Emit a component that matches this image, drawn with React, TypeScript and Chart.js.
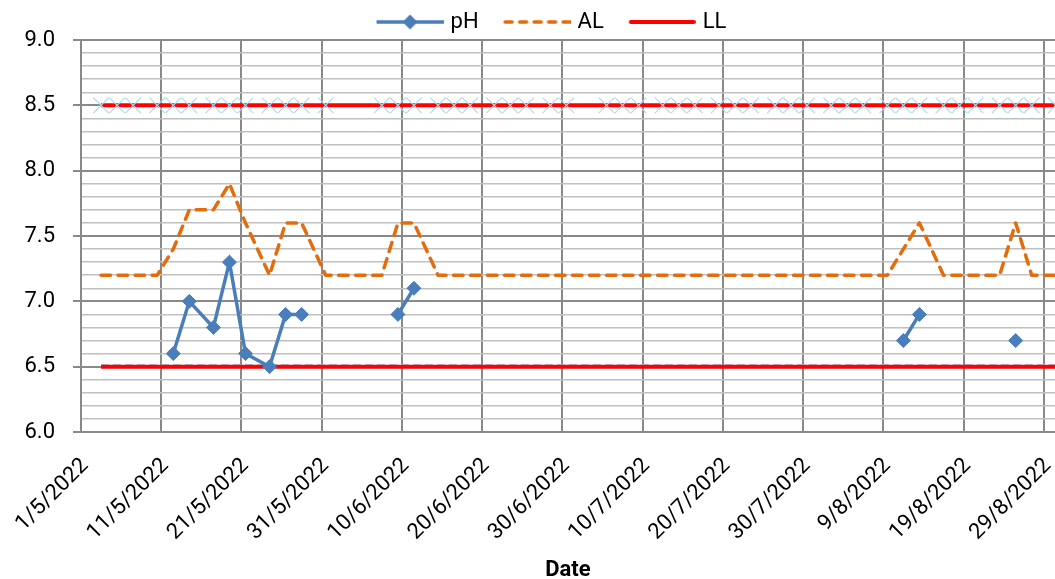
import React, { useEffect, useRef } from 'react';
import { Chart, registerables } from 'chart.js';

Chart.register(...registerables);

// ---- data (dates are d/m in 2022; rows on Tue/Thu/Sat) ----
const YEAR = 2022;

const sampleDates = [
  '3/5', '5/5', '7/5', '10/5', '12/5', '14/5', '17/5', '19/5', '21/5', '24/5', '26/5', '28/5', '31/5',
  '7/6', '9/6', '11/6', '14/6', '16/6', '18/6', '21/6', '23/6', '25/6', '28/6', '30/6',
  '5/7', '7/7', '9/7', '12/7', '14/7', '16/7', '19/7', '21/7', '23/7', '26/7', '28/7', '30/7',
  '2/8', '4/8', '6/8', '9/8', '11/8', '13/8', '16/8', '18/8', '20/8', '23/8', '25/8', '27/8', '30/8',
];

const phValues: (number | null)[] = [
  null, null, null, null, 6.6, 7.0, 6.8, 7.3, 6.6, 6.5, 6.9, 6.9, null,
  null, 6.9, 7.1, null, null, null, null, null, null, null, null,
  null, null, null, null, null, null, null, null, null, null, null, null,
  null, null, null, null, 6.7, 6.9, null, null, null, null, 6.7, null, null,
];

const alValues = [
  7.2, 7.2, 7.2, 7.2, 7.4, 7.7, 7.7, 7.9, 7.6, 7.2, 7.6, 7.6, 7.2,
  7.2, 7.6, 7.6, 7.2, 7.2, 7.2, 7.2, 7.2, 7.2, 7.2, 7.2,
  7.2, 7.2, 7.2, 7.2, 7.2, 7.2, 7.2, 7.2, 7.2, 7.2, 7.2, 7.2,
  7.2, 7.2, 7.2, 7.2, 7.4, 7.6, 7.2, 7.2, 7.2, 7.2, 7.6, 7.2, 7.2,
];

const llValues = [
  6.5, 6.5, 6.5, 6.5, 6.5, 6.5, 6.5, 6.5, 6.5, 6.5, 6.5, 6.5, 6.5,
  6.5, 6.5, 6.5, 6.5, 6.5, 6.5, 6.5, 6.5, 6.5, 6.5, 6.5,
  6.5, 6.5, 6.5, 6.5, 6.5, 6.5, 6.5, 6.5, 6.5, 6.5, 6.5, 6.5,
  6.5, 6.5, 6.5, 6.5, 6.5, 6.5, 6.5, 6.5, 6.5, 6.5, 6.5, 6.5, 6.5,
];

const ulValues = [
  8.5, 8.5, 8.5, 8.5, 8.5, 8.5, 8.5, 8.5, 8.5, 8.5, 8.5, 8.5, 8.5,
  8.5, 8.5, 8.5, 8.5, 8.5, 8.5, 8.5, 8.5, 8.5, 8.5, 8.5,
  8.5, 8.5, 8.5, 8.5, 8.5, 8.5, 8.5, 8.5, 8.5, 8.5, 8.5, 8.5,
  8.5, 8.5, 8.5, 8.5, 8.5, 8.5, 8.5, 8.5, 8.5, 8.5, 8.5, 8.5, 8.5,
];

// faint light-blue dashed series peeking just above the lower red limit
const lowShadowValues = [
  6.515, 6.515, 6.515, 6.515, 6.515, 6.515, 6.515, 6.515, 6.515, 6.515, 6.515, 6.515, 6.515,
  6.515, 6.515, 6.515, 6.515, 6.515, 6.515, 6.515, 6.515, 6.515, 6.515, 6.515,
  6.515, 6.515, 6.515, 6.515, 6.515, 6.515, 6.515, 6.515, 6.515, 6.515, 6.515, 6.515,
  6.515, 6.515, 6.515, 6.515, 6.515, 6.515, 6.515, 6.515, 6.515, 6.515, 6.515, 6.515, 6.515,
];

const xTickLabels = [
  '1/5/2022', '11/5/2022', '21/5/2022', '31/5/2022', '10/6/2022', '20/6/2022', '30/6/2022',
  '10/7/2022', '20/7/2022', '30/7/2022', '9/8/2022', '19/8/2022', '29/8/2022',
];

const AXIS_END_DAY = 121.4; // visible window ends just before the 30/8 slot centre
const Y_MIN = 6;
const Y_MAX = 9;

// ---- styles ----
const PH_COLOR = '#4A7EBB';
const AL_COLOR = '#E46C0A';
const LIMIT_COLOR = '#FF0000';
const MARKER_BLUE = '#B0D8EE';
const GRID_DARK = '#898989';
const GRID_LIGHT = '#C0C0C0';
const FONT = 'Roboto';

const dayIndex = (s: string) => {
  const [d, m] = s.split('/').map(Number);
  return Math.round((Date.UTC(YEAR, m - 1, d) - Date.UTC(YEAR, 4, 1)) / 86400000);
};
// Excel date axis "between tick marks": each day is centred in its slot
const slotCentre = (s: string) => dayIndex(s) + 0.5;
const isMajor = (v: number) => Math.round(v * 10) % 5 === 0;

const series = (values: (number | null)[]) =>
  sampleDates.map((d, i) => ({ x: slotCentre(d), y: values[i] }));

const NO_PADDING = () => ({ left: 0, top: 0, right: 0, bottom: 0 });

// move the legend block to the right (it is centred over the plot+axis in the original)
const legendShift = {
  id: 'legendShift',
  afterLayout(chart: any) {
    if (chart.legend) chart.legend.left += 34;
  },
};

export default function App() {
  const ref = useRef<HTMLCanvasElement>(null);

  useEffect(() => {
    const canvas = ref.current;
    if (!canvas) return;

    const makeSample = (draw: (g: CanvasRenderingContext2D) => void) => {
      const c = document.createElement('canvas');
      c.width = 85;
      c.height = 18;
      const g = c.getContext('2d')!;
      draw(g);
      return c;
    };
    const phSample = makeSample((g) => {
      g.strokeStyle = PH_COLOR;
      g.lineWidth = 3.5;
      g.beginPath();
      g.moveTo(18, 9);
      g.lineTo(85, 9);
      g.stroke();
      g.fillStyle = PH_COLOR;
      g.beginPath();
      g.moveTo(51.5, 1.5);
      g.lineTo(59, 9);
      g.lineTo(51.5, 16.5);
      g.lineTo(44, 9);
      g.closePath();
      g.fill();
    });
    const alSample = makeSample((g) => {
      g.strokeStyle = AL_COLOR;
      g.lineWidth = 3.5;
      g.lineCap = 'round';
      g.setLineDash([7, 7.5]);
      g.beginPath();
      g.moveTo(19.5, 9);
      g.lineTo(85, 9);
      g.stroke();
    });
    const llSample = makeSample((g) => {
      g.strokeStyle = LIMIT_COLOR;
      g.lineWidth = 4;
      g.lineCap = 'round';
      g.beginPath();
      g.moveTo(20, 9);
      g.lineTo(83, 9);
      g.stroke();
    });

    const tickFont = { family: FONT, size: 22 };

    const chart = new Chart(canvas, {
      type: 'line',
      plugins: [legendShift],
      data: {
        datasets: [
          {
            label: 'pH',
            data: series(phValues),
            borderColor: PH_COLOR,
            backgroundColor: PH_COLOR,
            borderWidth: 3.5,
            pointStyle: 'rectRot',
            pointRadius: 7,
            pointBorderWidth: 1,
            pointBackgroundColor: PH_COLOR,
            pointBorderColor: PH_COLOR,
            spanGaps: false,
            tension: 0,
            order: 0,
          },
          {
            label: 'AL',
            data: series(alValues),
            borderColor: AL_COLOR,
            backgroundColor: AL_COLOR,
            borderWidth: 3.5,
            borderDash: [9.5, 7.5],
            borderCapStyle: 'round',
            borderJoinStyle: 'round',
            pointRadius: 0,
            tension: 0,
            order: 1,
          },
          {
            label: 'LL',
            data: series(llValues),
            borderColor: LIMIT_COLOR,
            backgroundColor: LIMIT_COLOR,
            borderWidth: 4,
            pointRadius: 0,
            order: 2,
          },
          {
            label: 'UL',
            data: series(ulValues),
            borderColor: LIMIT_COLOR,
            backgroundColor: 'transparent',
            borderWidth: 4,
            pointStyle: 'crossRot',
            pointRadius: 11,
            pointBorderWidth: 1.2,
            pointBorderColor: MARKER_BLUE,
            pointBackgroundColor: 'transparent',
            order: 2,
          },
          {
            label: 'LL shadow',
            data: series(lowShadowValues),
            borderColor: '#A9CBE8',
            backgroundColor: 'transparent',
            borderWidth: 1.5,
            borderDash: [8, 4],
            pointRadius: 0,
            order: 3,
          },
        ],
      },
      options: {
        responsive: false,
        animation: false,
        events: [],
        layout: { padding: 0, autoPadding: false },
        plugins: {
          tooltip: { enabled: false },
          legend: {
            position: 'top',
            align: 'center',
            maxHeight: 40,
            labels: {
              usePointStyle: true,
              pointStyleWidth: 77,
              padding: 11,
              color: '#000',
              font: tickFont,
              generateLabels: () => [
                { text: 'pH', pointStyle: phSample, fillStyle: PH_COLOR, strokeStyle: PH_COLOR, lineWidth: 0, hidden: false, datasetIndex: 0, fontColor: '#000' },
                { text: 'AL', pointStyle: alSample, fillStyle: AL_COLOR, strokeStyle: AL_COLOR, lineWidth: 0, hidden: false, datasetIndex: 1, fontColor: '#000' },
                { text: 'LL', pointStyle: llSample, fillStyle: LIMIT_COLOR, strokeStyle: LIMIT_COLOR, lineWidth: 0, hidden: false, datasetIndex: 2, fontColor: '#000' },
              ] as any,
            },
          },
        },
        scales: {
          x: {
            type: 'linear',
            min: 0,
            max: AXIS_END_DAY,
            afterBuildTicks: (scale: any) => {
              scale.ticks = xTickLabels.map((l) => ({ value: dayIndex(l) }));
            },
            afterFit: (scale: any) => {
              scale.paddingLeft = 0;
              scale.paddingRight = 0;
              scale.getPadding = NO_PADDING;
              scale.height = 147;
            },
            ticks: {
              autoSkip: false,
              minRotation: 45,
              maxRotation: 45,
              padding: 21,
              labelOffset: 4,
              color: '#000',
              font: tickFont,
              callback: (_v: any, i: number) => xTickLabels[i],
            },
            grid: { color: GRID_DARK, lineWidth: 2, drawTicks: false },
            border: { color: GRID_DARK, width: 2 },
            title: {
              display: true,
              text: 'Date',
              color: '#000',
              font: { family: FONT, size: 22, weight: 'bold', lineHeight: 0.8 },
              padding: 0,
            },
          },
          y: {
            type: 'linear',
            min: Y_MIN,
            max: Y_MAX,
            afterFit: (scale: any) => {
              scale.width = 81;
            },
            ticks: {
              stepSize: 0.1,
              maxTicksLimit: 100,
              autoSkip: false,
              padding: 18,
              color: '#000',
              font: tickFont,
              callback: (v: any) => (isMajor(Number(v)) ? Number(v).toFixed(1) : ''),
            },
            grid: {
              color: (ctx: any) => (isMajor(ctx.tick.value) ? GRID_DARK : GRID_LIGHT),
              lineWidth: (ctx: any) => (isMajor(ctx.tick.value) ? 2 : 1.5),
              tickLength: 8,
              tickColor: (ctx: any) => (isMajor(ctx.tick.value) ? GRID_DARK : 'rgba(0,0,0,0)'),
              tickWidth: 2,
            },
            border: { color: GRID_DARK, width: 2 },
          },
        },
      } as any,
    });

    return () => chart.destroy();
  }, []);

  return (
    <div style={{ position: 'fixed', left: 0, top: 0, width: 1055, height: 579, background: '#fff' }}>
      <canvas ref={ref} width={1055} height={579} />
    </div>
  );
}
